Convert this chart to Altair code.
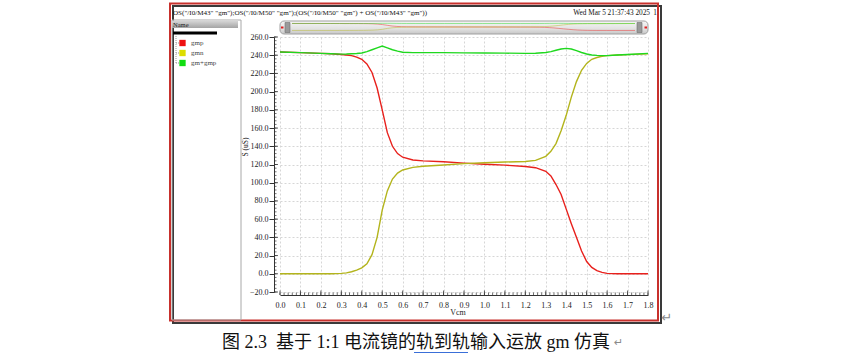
import altair as alt
import pandas as pd

# ---------------- data ----------------
vcm = [0.0, 0.1, 0.2, 0.25, 0.3, 0.325, 0.35, 0.375, 0.4, 0.425, 0.45, 0.475, 0.5,
       0.525, 0.55, 0.575, 0.6, 0.65, 0.7, 0.8, 0.9, 1.0, 1.1, 1.2, 1.25, 1.3, 1.325,
       1.35, 1.375, 1.4, 1.425, 1.45, 1.475, 1.5, 1.525, 1.55, 1.575, 1.6, 1.65, 1.7, 1.8]
gmp = [243.5, 242.8, 242.0, 241.6, 240.8, 240.3, 239.6, 238.0, 235.5, 230.5, 221.0, 204.0, 180.0,
       155.0, 140.0, 132.0, 128.0, 125.0, 124.0, 123.0, 121.5, 120.3, 119.3, 117.8, 116.5, 112.5, 107.5,
       98.0, 87.0, 71.0, 55.0, 40.0, 25.0, 13.5, 7.0, 3.5, 1.5, 0.5, 0.0, 0.0, 0.0]
gmn = [0.0, 0.0, 0.0, 0.0, 0.4, 1.0, 2.2, 4.0, 6.5, 11.0, 21.0, 40.0, 70.0,
       91.0, 104.0, 110.5, 114.0, 116.8, 118.0, 119.5, 121.0, 122.0, 122.7, 123.3, 124.5, 129.0, 134.5,
       143.0, 157.0, 174.0, 194.0, 211.0, 223.5, 231.0, 235.5, 237.5, 238.8, 239.5, 240.2, 240.7, 241.5]
gmsum = [243.5, 242.8, 242.0, 241.6, 241.2, 241.3, 241.6, 241.9, 242.5, 244.0, 246.0, 248.0, 250.0,
         248.0, 246.0, 244.5, 243.3, 242.8, 242.8, 242.8, 242.6, 242.5, 242.3, 242.0, 242.2, 243.0, 244.0,
         245.5, 246.8, 247.5, 246.8, 245.0, 243.0, 241.3, 240.3, 239.8, 239.6, 239.6, 240.2, 240.8, 242.0]

series_names = ["gmp", "gmn", "gm+gmp"]
series_colors = ["#e8201c", "#b3b41c", "#1fd81f"]
legend_colors = ["#ee1111", "#dddd00", "#11dd11"]

x_ticks = [0.0, 0.1, 0.2, 0.3, 0.4, 0.5, 0.6, 0.7, 0.8, 0.9, 1.0, 1.1, 1.2, 1.3, 1.4, 1.5, 1.6, 1.7, 1.8]
y_ticks = [-20, 0, 20, 40, 60, 80, 100, 120, 140, 160, 180, 200, 220, 240, 260]
x_minor = [round(i * 0.02, 2) for i in range(91)]
y_minor = list(range(-20, 261, 4))

header_left = 'OS("/I0/M43" "gm");OS("/I0/M50" "gm");(OS("/I0/M50" "gm") + OS("/I0/M43" "gm"))'
header_right = "Wed Mar 5 21:37:43 2025"
page_no = "1"
x_title = "Vcm"
y_title = "S (uS)"
caption = "图 2.3\u00a0\u00a0基于 1:1 电流镜的轨到轨输入运放 gm 仿真"

# ---------------- tables ----------------
rows = []
for name, vals in zip(series_names, [gmp, gmn, gmsum]):
    for v, s in zip(vcm, vals):
        rows.append({"Vcm": v, "S": s, "series": name})
df = pd.DataFrame(rows)
legend_df = pd.DataFrame({"name": series_names, "col": legend_colors})
xmaj_df = pd.DataFrame({"t": x_ticks})
xmin_df = pd.DataFrame({"t": x_minor})
ymaj_df = pd.DataFrame({"t": y_ticks})
ymin_df = pd.DataFrame({"t": y_minor})
one = pd.DataFrame({"k": [0]})

SERIF = "Liberation Serif"
W, H = 368, 255


def xs():
    return alt.Scale(domain=[0, 1.8], nice=False, zero=False)


def ys():
    return alt.Scale(domain=[-20, 260], nice=False, zero=False)


cscale = alt.Scale(domain=series_names, range=series_colors)


def box(x1, x2, y1, y2, **kw):
    return alt.Chart(one).mark_rect(**kw).encode(
        x=alt.value(x1), x2=alt.value(x2), y=alt.value(y1), y2=alt.value(y2))


def seg(x1, x2, y1, y2, **kw):
    return alt.Chart(one).mark_rule(**kw).encode(
        x=alt.value(x1), x2=alt.value(x2), y=alt.value(y1), y2=alt.value(y2))


def txt(x, y, t, **kw):
    return alt.Chart(one).mark_text(text=t, **kw).encode(x=alt.value(x), y=alt.value(y))


layers = []

# outer frame with shadow (no fill so the axes behind marks stay visible)
layers.append(box(-107, 381, -31, 286, fillOpacity=0, stroke="#3a3a3a", strokeWidth=2))
layers.append(box(-110, 378, -33.5, 283.5, fillOpacity=0, stroke="#c8302c", strokeWidth=2))

# header texts
layers.append(txt(-107, -24, header_left, font=SERIF, fontSize=7.1, align="left", baseline="middle", color="#111"))
layers.append(txt(370, -24, header_right, font=SERIF, fontSize=7.3, align="right", baseline="middle", color="#111"))
layers.append(txt(375, -24, page_no, font=SERIF, fontSize=7.3, align="center", baseline="middle", color="#111"))

# left panel
layers.append(box(-108, -39, -17, 283, fillOpacity=0, stroke="#a8a8a8", strokeWidth=1))
name_grad = alt.LinearGradient(gradient="linear", x1=0, x2=0, y1=0, y2=1,
                               stops=[alt.GradientStop(color="#d8d8d8", offset=0),
                                      alt.GradientStop(color="#a4a4a4", offset=1)])
layers.append(box(-108, -42, -16.5, -9, color=name_grad))
layers.append(txt(-107, -12.5, "Name", font=SERIF, fontSize=6.5, align="left", baseline="middle", color="#222"))
layers.append(seg(-107, -63, -4, -4, color="#000", strokeWidth=3))
layers.append(seg(-104, -104, -1, 26, color="#9a9a9a", strokeWidth=1, strokeDash=[1, 1]))
for yy in [6, 16, 26]:
    layers.append(seg(-104, -101, yy, yy, color="#9a9a9a", strokeWidth=1, strokeDash=[1, 1]))

# legend entries
legend_y = alt.Y("name:N", scale=alt.Scale(domain=series_names, range=[6, 26], padding=0), axis=None)
layers.append(alt.Chart(legend_df).mark_square(size=40, opacity=1).encode(
    x=alt.value(-97.5), y=legend_y, color=alt.Color("col:N", scale=None)))
layers.append(alt.Chart(legend_df).mark_text(font=SERIF, fontSize=7, align="left", baseline="middle", color="#444").encode(
    x=alt.value(-89), y=legend_y, text="name:N"))

# scroll bar with overview
bar_grad = alt.LinearGradient(gradient="linear", x1=0, x2=0, y1=0, y2=1,
                              stops=[alt.GradientStop(color="#f6f6f6", offset=0),
                                     alt.GradientStop(color="#e2e2e2", offset=0.6),
                                     alt.GradientStop(color="#c6c6c6", offset=1)])
layers.append(box(0, 368, -16, -3, color=bar_grad, stroke="#a0a0a0", strokeWidth=1, cornerRadius=4))
layers.append(box(5, 10, -14.5, -4.5, color="#9a9a9a", stroke="#707070", strokeWidth=0.6))
layers.append(box(357, 362, -14.5, -4.5, color="#9a9a9a", stroke="#707070", strokeWidth=0.6))
layers.append(box(1, 3.5, -10.5, -8.5, color="#e02020"))
layers.append(box(364.5, 367, -10.5, -8.5, color="#e02020"))
layers.append(alt.Chart(df).mark_line(strokeWidth=1, opacity=0.45).encode(
    x=alt.X("Vcm:Q", scale=alt.Scale(domain=[0, 1.8], range=[12, 355], nice=False, zero=False), axis=None),
    y=alt.Y("S:Q", scale=alt.Scale(domain=[-20, 260], range=[-6, -14], nice=False, zero=False), axis=None),
    color=alt.Color("series:N", scale=cscale, legend=None),
    detail="series:N"))

# main data lines; first carries the axes
x_axis = alt.Axis(values=x_ticks, format=".1f", grid=True, gridColor="#d6d6d6", gridDash=[2, 2],
                  ticks=False, domainColor="#333", offset=3, labelFont=SERIF, labelFontSize=8,
                  labelColor="#222", labelPadding=6, labelFlush=False, title=None)
y_axis = alt.Axis(values=y_ticks, format=".1f", grid=True, gridColor="#d6d6d6", gridDash=[2, 2],
                  tickSize=5, tickColor="#333", domainColor="#333", offset=6, labelFont=SERIF,
                  labelFontSize=8, labelColor="#222", labelPadding=1, labelFlush=False, title=None)
for i, name in enumerate(series_names):
    layers.append(alt.Chart(df).transform_filter(alt.datum.series == name).mark_line(strokeWidth=1.4).encode(
        x=alt.X("Vcm:Q", scale=xs(), axis=x_axis if i == 0 else None),
        y=alt.Y("S:Q", scale=ys(), axis=y_axis if i == 0 else None),
        color=alt.Color("series:N", scale=cscale, legend=None)))

# minor / major ticks drawn through the same scales
layers.append(alt.Chart(xmin_df).mark_rule(color="#333", strokeWidth=0.7).encode(
    x=alt.X("t:Q", scale=xs(), axis=None), y=alt.value(258), y2=alt.value(255.5)))
layers.append(alt.Chart(xmaj_df).mark_rule(color="#333", strokeWidth=0.8).encode(
    x=alt.X("t:Q", scale=xs(), axis=None), y=alt.value(258), y2=alt.value(253.5)))
layers.append(alt.Chart(ymin_df).mark_rule(color="#333", strokeWidth=0.7).encode(
    y=alt.Y("t:Q", scale=ys(), axis=None), x=alt.value(-6), x2=alt.value(-3.5)))
layers.append(alt.Chart(ymaj_df).mark_rule(color="#333", strokeWidth=0.8).encode(
    y=alt.Y("t:Q", scale=ys(), axis=None), x=alt.value(-6), x2=alt.value(-2)))

# axis titles
layers.append(txt(178, 276, x_title, font=SERIF, fontSize=8, align="center", baseline="middle", color="#222"))
layers.append(txt(-34, 110, y_title, font=SERIF, fontSize=7.5, align="center", baseline="middle", color="#222", angle=270))

# return marks and caption
layers.append(txt(387, 281, "↵", font="DejaVu Sans", fontSize=13, align="center", baseline="middle", color="#8a8a8a"))
layers.append(txt(136, 306, caption, font="Liberation Serif, Noto Sans CJK SC", fontSize=18.0,
                  align="center", baseline="middle", color="#111"))
layers.append(txt(334, 306, "↵", font="DejaVu Sans", fontSize=11, align="left", baseline="middle", color="#8a8a8a"))
layers.append(seg(134, 188, 315.5, 315.5, color="#3a6fd8", strokeWidth=1.2))

chart = alt.layer(*layers).resolve_scale(
    x="independent", y="independent", color="independent"
).properties(
    width=W, height=H,
    padding={"left": 280, "top": 37, "right": 194, "bottom": 63},
    autosize=alt.AutoSizeParams(type="none"),
    background="white",
).configure_view(stroke=None)

chart.save("out.html", embed_options={"renderer": "svg", "actions": False})
